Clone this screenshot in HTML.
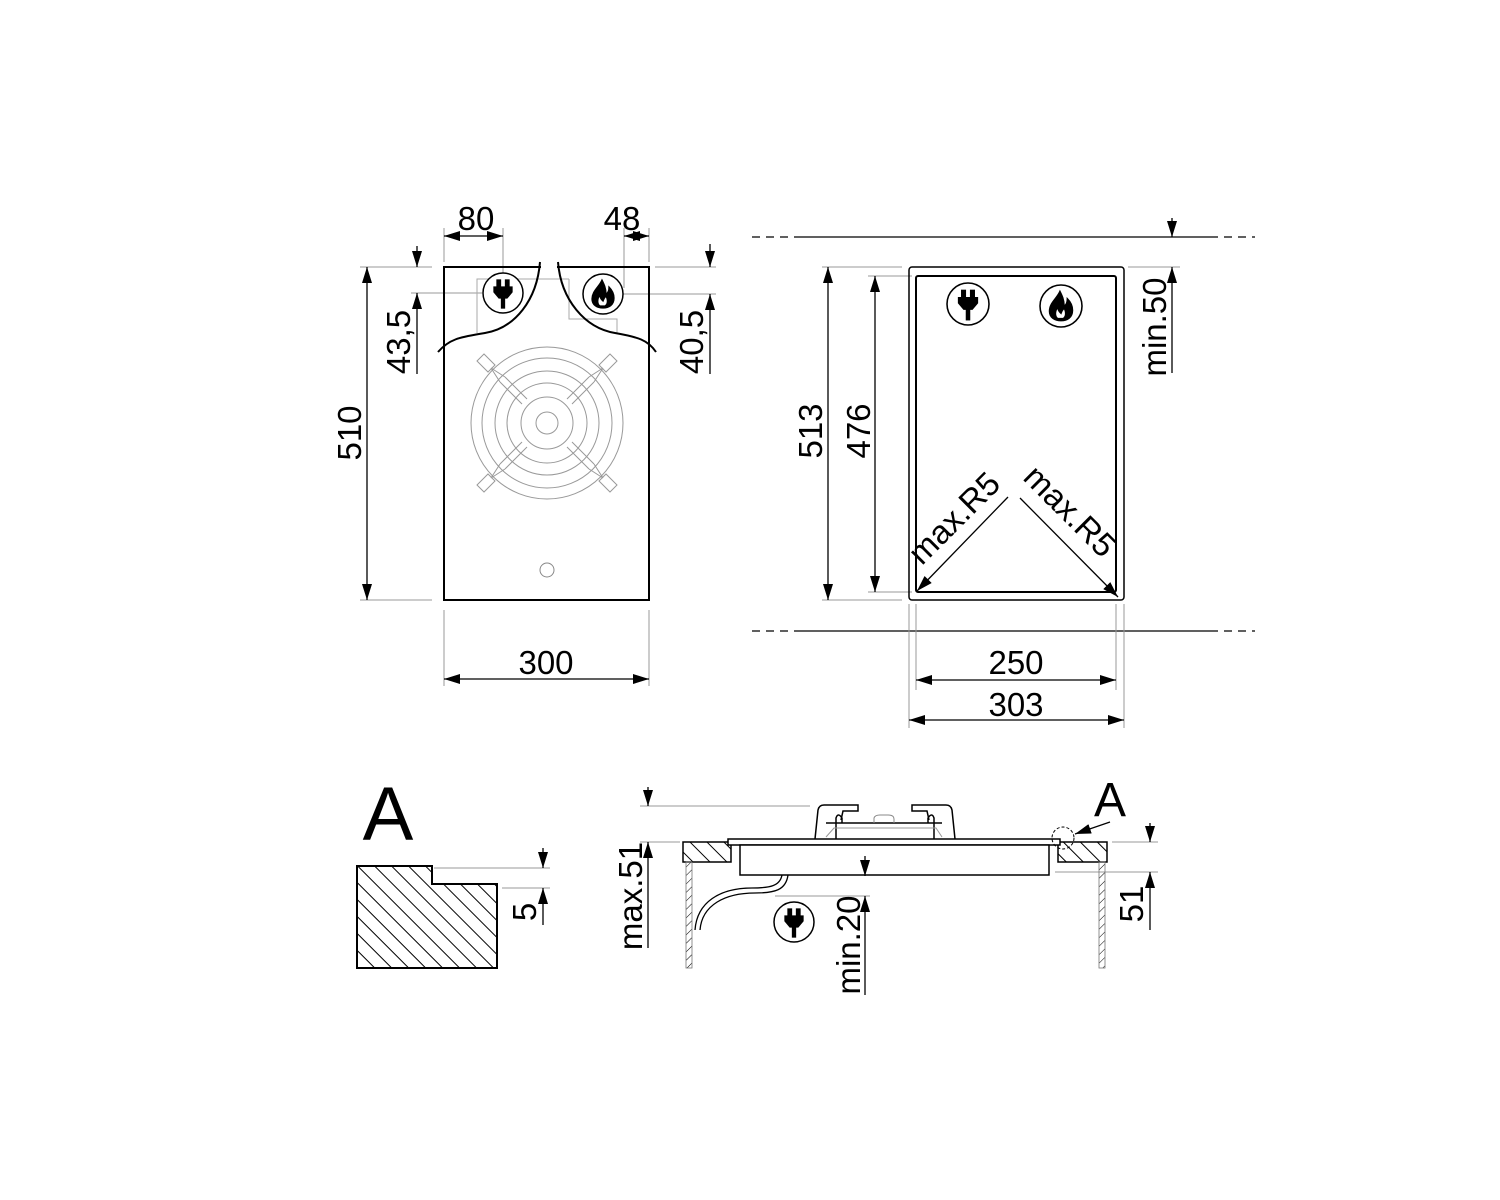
<!DOCTYPE html>
<html><head><meta charset="utf-8"><style>
html,body{margin:0;padding:0;background:#fff;}
svg{display:block;}
text{font-family:"Liberation Sans",Arial,sans-serif;fill:#000;}
</style></head><body>
<svg width="1500" height="1200" viewBox="0 0 1500 1200" xmlns="http://www.w3.org/2000/svg">
<defs>
<marker id="a" viewBox="0 0 16 10" refX="16" refY="5" markerWidth="16" markerHeight="10" markerUnits="userSpaceOnUse" orient="auto-start-reverse"><path d="M0,0 L16,5 L0,10 Z" fill="#000"/></marker>
<pattern id="h" patternUnits="userSpaceOnUse" width="12" height="12" patternTransform="rotate(-45)"><line x1="0" y1="0" x2="0" y2="12" stroke="#000" stroke-width="2"/></pattern>
<pattern id="hs" patternUnits="userSpaceOnUse" width="6" height="6" patternTransform="rotate(45)"><line x1="0" y1="0" x2="0" y2="6" stroke="#000" stroke-width="1"/></pattern>
<symbol id="plug" viewBox="-20 -20 40 40" overflow="visible">
<circle r="20" fill="#fff" stroke="#000" stroke-width="1.5"/>
<rect x="-6" y="-13" width="3.5" height="7" fill="#000"/><rect x="2.5" y="-13" width="3.5" height="7" fill="#000"/>
<path d="M-9,-6 H9 V-1 L4,5 H-4 L-9,-1 Z" fill="#000"/>
<rect x="-1.5" y="4" width="3" height="11" fill="#000"/>
</symbol>
<symbol id="flame" viewBox="-20 -20 40 40" overflow="visible">
<circle r="20" fill="#fff" stroke="#000" stroke-width="1.5"/>
<path d="M-1,-14 C-4,-7 -11,-3 -11,5 C-11,11 -6,14 0,14 C6,14 11,11 11,4 C11,-1 8,-5 6,-7 C6,-3 5,-1 3,0 C3,-6 1,-10 -1,-14 Z M-3,12 C-6,10 -6,5 -3,1 C-3,5 -1,6 0,7 C1,4 2,3 3,2 C5,6 5,10 2,12 Z" fill="#000" fill-rule="evenodd"/>
</symbol>
</defs>

<g fill="none" stroke="#000" stroke-width="1.3">
<!-- ===== Left hob top view ===== -->
<g stroke="#999" stroke-width="1">
<line x1="360" y1="267" x2="432" y2="267"/><line x1="360" y1="600" x2="432" y2="600"/>
<line x1="444" y1="228" x2="444" y2="262"/><line x1="503" y1="228" x2="503" y2="288"/>
<line x1="624" y1="228" x2="624" y2="288"/><line x1="649" y1="228" x2="649" y2="262"/>
<line x1="411" y1="293" x2="482" y2="293"/>
<line x1="655" y1="267" x2="716" y2="267"/><line x1="622" y1="294" x2="716" y2="294"/>
<line x1="444" y1="610" x2="444" y2="686"/><line x1="649" y1="610" x2="649" y2="686"/>
<path d="M477,333 V279 H569" stroke="#aaa"/><path d="M569,279 V319 H617 V333" stroke="#aaa"/>
</g>
<rect x="444" y="267" width="205" height="333" stroke-width="2"/>
<g stroke="#fff" stroke-width="6"><line x1="541" y1="267" x2="557" y2="267"/></g>
<path d="M540,262 C537,300 515,328 485,333 C462,337 450,338 438,352" stroke-width="2"/>
<path d="M558,262 C561,300 585,328 615,333 C638,337 648,340 656,352" stroke-width="2"/>
<!-- burner grate -->
<g stroke="#999" stroke-width="1">
<circle cx="547" cy="423" r="76"/><circle cx="547" cy="423" r="65"/><circle cx="547" cy="423" r="52"/><circle cx="547" cy="423" r="40"/><circle cx="547" cy="423" r="26"/><circle cx="547" cy="423" r="11"/>
<g id="arm"><path d="M505,377 L527,399 M500,382 L522,404"/><path d="M484,354 L477,361 L488,372 L495,365 Z M491,368 L500,382 M491,368 L505,377"/></g>
<use href="#arm" transform="translate(1094,0) scale(-1,1)"/>
<use href="#arm" transform="translate(0,846) scale(1,-1)"/>
<use href="#arm" transform="translate(1094,846) scale(-1,-1)"/>
</g>
<circle cx="547" cy="570" r="7" stroke="#888" stroke-width="1"/>
<use href="#plug" x="483" y="273" width="40" height="40"/>
<use href="#flame" x="583" y="274" width="40" height="40"/>
<!-- dims -->
<line x1="367" y1="267" x2="367" y2="600" marker-start="url(#a)" marker-end="url(#a)"/>
<line x1="444" y1="236" x2="503" y2="236" marker-start="url(#a)" marker-end="url(#a)"/>
<line x1="624" y1="236" x2="649" y2="236" marker-start="url(#a)" marker-end="url(#a)"/>
<line x1="417" y1="246" x2="417" y2="267" marker-end="url(#a)"/>
<line x1="417" y1="374" x2="417" y2="293" marker-end="url(#a)"/>
<line x1="710" y1="244" x2="710" y2="267" marker-end="url(#a)"/>
<line x1="710" y1="374" x2="710" y2="294" marker-end="url(#a)"/>
<line x1="444" y1="679" x2="649" y2="679" marker-start="url(#a)" marker-end="url(#a)"/>

<!-- ===== Right cutout ===== -->
<g stroke-dasharray="8,6"><line x1="752" y1="237" x2="795" y2="237"/><line x1="1210" y1="237" x2="1255" y2="237"/><line x1="752" y1="631" x2="795" y2="631"/><line x1="1210" y1="631" x2="1255" y2="631"/></g>
<line x1="795" y1="237" x2="1210" y2="237"/><line x1="795" y1="631" x2="1210" y2="631"/>
<g stroke="#999" stroke-width="1">
<line x1="822" y1="267" x2="902" y2="267"/><line x1="822" y1="600" x2="902" y2="600"/>
<line x1="868" y1="276" x2="912" y2="276"/><line x1="868" y1="592" x2="912" y2="592"/>
<line x1="1128" y1="267" x2="1180" y2="267"/>
<line x1="909" y1="604" x2="909" y2="728"/><line x1="1124" y1="604" x2="1124" y2="728"/>
<line x1="916" y1="604" x2="916" y2="690"/><line x1="1116" y1="604" x2="1116" y2="690"/>
</g>
<rect x="909" y="267" width="215" height="333" rx="3" stroke-width="1.5"/>
<rect x="916" y="276" width="200" height="316" rx="2" stroke-width="2"/>
<use href="#plug" x="947" y="283" width="42" height="42"/>
<use href="#flame" x="1040" y="285" width="42" height="42"/>
<line x1="828" y1="267" x2="828" y2="600" marker-start="url(#a)" marker-end="url(#a)"/>
<line x1="875" y1="276" x2="875" y2="592" marker-start="url(#a)" marker-end="url(#a)"/>
<line x1="1172" y1="218" x2="1172" y2="237" marker-end="url(#a)"/>
<line x1="1172" y1="373" x2="1172" y2="267" marker-end="url(#a)"/>
<line x1="916" y1="680" x2="1116" y2="680" marker-start="url(#a)" marker-end="url(#a)"/>
<line x1="909" y1="720" x2="1124" y2="720" marker-start="url(#a)" marker-end="url(#a)"/>
<line x1="1008" y1="497" x2="917" y2="591" marker-end="url(#a)"/>
<line x1="1020" y1="498" x2="1118" y2="597" marker-end="url(#a)"/>

<!-- ===== Detail A ===== -->
<path d="M357,866 H432 V884 H497 V968 H357 Z" fill="url(#h)" stroke-width="2"/>
<g stroke="#999" stroke-width="1"><line x1="434" y1="868" x2="550" y2="868"/><line x1="502" y1="888" x2="550" y2="888"/></g>
<line x1="543" y1="848" x2="543" y2="868" marker-end="url(#a)"/>
<line x1="543" y1="925" x2="543" y2="888" marker-end="url(#a)"/>

<!-- ===== Side view ===== -->
<g stroke="#999" stroke-width="1">
<line x1="640" y1="806" x2="810" y2="806"/><line x1="640" y1="842" x2="680" y2="842"/>
<line x1="775" y1="896" x2="870" y2="896"/>
<line x1="1112" y1="842" x2="1158" y2="842"/><line x1="1055" y1="872" x2="1158" y2="872"/>
</g>
<rect x="683" y="842" width="48" height="20" fill="url(#h)" stroke-width="1.5"/>
<rect x="1058" y="842" width="49" height="20" fill="url(#h)" stroke-width="1.5"/>
<rect x="686" y="862" width="6" height="106" fill="url(#hs)" stroke="#777" stroke-width="0.8"/>
<rect x="1099" y="862" width="6" height="106" fill="url(#hs)" stroke="#777" stroke-width="0.8"/>
<path d="M728,839 H1060 V845 H728 Z" fill="#fff" stroke-width="1.5"/>
<rect x="740" y="845" width="309" height="30" fill="#fff" stroke-width="1.5"/>
<path d="M815,839 L818,810 Q819,805 824,805 H858 V811 H843 L841,820 M836,839 V818 Q838,812 842,818 V823" stroke-width="1.5"/>
<path d="M955,839 L952,810 Q951,805 946,805 H912 V811 H927 L929,820 M934,839 V818 Q932,812 928,818 V823" stroke-width="1.5"/>
<line x1="826" y1="823" x2="942" y2="823" stroke-width="1.5"/>
<path d="M874,823 V818 Q875,815 880,815 H888 Q894,815 894,819 V823" stroke="#888" stroke-width="1"/>
<path d="M826,837 L834,828 H936 L942,837" stroke="#999" stroke-width="1"/>
<path d="M788,875 C786,890 775,893 755,893 C725,893 702,905 700,930" stroke-width="1.3"/>
<path d="M782,875 C780,886 770,888 752,888 C720,888 697,902 695,930" stroke-width="1.3"/>
<use href="#plug" x="774" y="902" width="40" height="40"/>
<circle cx="1063" cy="838" r="11" stroke-dasharray="3,2" stroke-width="1"/>
<line x1="1110" y1="822" x2="1075" y2="834" marker-end="url(#a)" stroke-width="1.2"/>
<line x1="648" y1="787" x2="648" y2="806" marker-end="url(#a)"/>
<line x1="648" y1="948" x2="648" y2="842" marker-end="url(#a)"/>
<line x1="865" y1="856" x2="865" y2="876" marker-end="url(#a)"/>
<line x1="865" y1="995" x2="865" y2="896" marker-end="url(#a)"/>
<line x1="1150" y1="823" x2="1150" y2="842" marker-end="url(#a)"/>
<line x1="1150" y1="930" x2="1150" y2="872" marker-end="url(#a)"/>
</g>

<!-- texts -->
<g font-size="33" text-anchor="middle">
<text x="476" y="230">80</text>
<text x="622" y="230">48</text>
<text x="546" y="674">300</text>
<text x="1016" y="674">250</text>
<text x="1016" y="716">303</text>
<text transform="translate(361,433) rotate(-90)">510</text>
<text transform="translate(410,342) rotate(-90)">43,5</text>
<text transform="translate(703,342) rotate(-90)">40,5</text>
<text transform="translate(822,431) rotate(-90)">513</text>
<text transform="translate(870,431) rotate(-90)">476</text>
<text transform="translate(1166,327) rotate(-90)">min.50</text>
<text transform="translate(962,526) rotate(-45)">max.R5</text>
<text transform="translate(1062,519) rotate(45)">max.R5</text>
<text transform="translate(642,896) rotate(-90)">max.51</text>
<text transform="translate(860,945) rotate(-90)">min.20</text>
<text transform="translate(1143,904) rotate(-90)">51</text>
<text transform="translate(536,912) rotate(-90)">5</text>
</g>
<text x="388" y="840" font-size="76" text-anchor="middle">A</text>
<text x="1110" y="816" font-size="48" text-anchor="middle">A</text>
</svg>
</body></html>
